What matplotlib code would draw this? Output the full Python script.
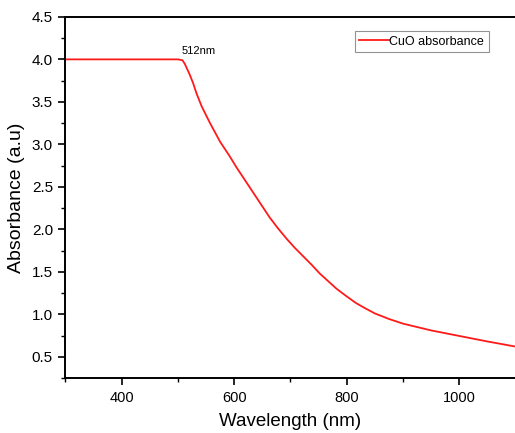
import matplotlib
matplotlib.use('Agg')
from matplotlib import pyplot as plt
from matplotlib.ticker import MultipleLocator

plt.rcParams['font.family'] = ['Liberation Sans', 'DejaVu Sans']

# values
wavelength = [300, 400, 500, 508, 512, 521, 527, 533, 542, 557, 575, 592, 604, 618,
              634, 648, 663, 678, 693, 708, 723, 738, 752, 767, 782, 800, 817, 833,
              850, 875, 900, 950, 1000, 1050, 1100]
absorbance = [4.0, 4.0, 4.0, 3.99, 3.95, 3.82, 3.72, 3.60, 3.45, 3.25, 3.03, 2.86, 2.73, 2.59,
              2.43, 2.29, 2.14, 2.01, 1.89, 1.78, 1.68, 1.58, 1.48, 1.39, 1.30, 1.21, 1.13, 1.07,
              1.01, 0.945, 0.89, 0.81, 0.745, 0.68, 0.62]
peak_label = '512nm'
series_name = 'CuO absorbance'

fig = plt.figure(figsize=(5.15, 4.33), dpi=100)
ax = fig.add_axes([0.127, 0.127, 0.874, 0.834])

ax.plot(wavelength, absorbance, color='#ff1a1a', lw=1.3, label=series_name)
ax.text(507, 4.04, peak_label, fontsize=8, ha='left', va='bottom')

ax.set_xlim(300, 1100)
ax.set_ylim(0.25, 4.5)
ax.xaxis.set_major_locator(MultipleLocator(200))
ax.xaxis.set_minor_locator(MultipleLocator(100))
ax.yaxis.set_major_locator(MultipleLocator(0.5))
ax.yaxis.set_minor_locator(MultipleLocator(0.25))
ax.yaxis.set_major_formatter(matplotlib.ticker.FormatStrFormatter('%.1f'))
ax.tick_params(which='major', direction='out', length=5, width=1.2, labelsize=11, pad=4)
ax.tick_params(axis='x', labelsize=10.5)
ax.tick_params(which='minor', direction='out', length=3, width=1.0)
for s in ax.spines.values():
    s.set_linewidth(1.4)
ax.spines['right'].set_visible(False)

ax.set_xlabel('Wavelength (nm)', fontsize=13.5, labelpad=6)
ax.set_ylabel('Absorbance (a.u)', fontsize=14, labelpad=5)

leg = ax.legend(loc='upper right', bbox_to_anchor=(0.94, 0.96), fontsize=9, frameon=True,
                fancybox=False, handlelength=2.4, handletextpad=0.0, borderpad=0.35,
                borderaxespad=0)
leg.get_frame().set_edgecolor('#777777')
leg.get_frame().set_linewidth(0.8)

fig.savefig('out.png', dpi=100)
